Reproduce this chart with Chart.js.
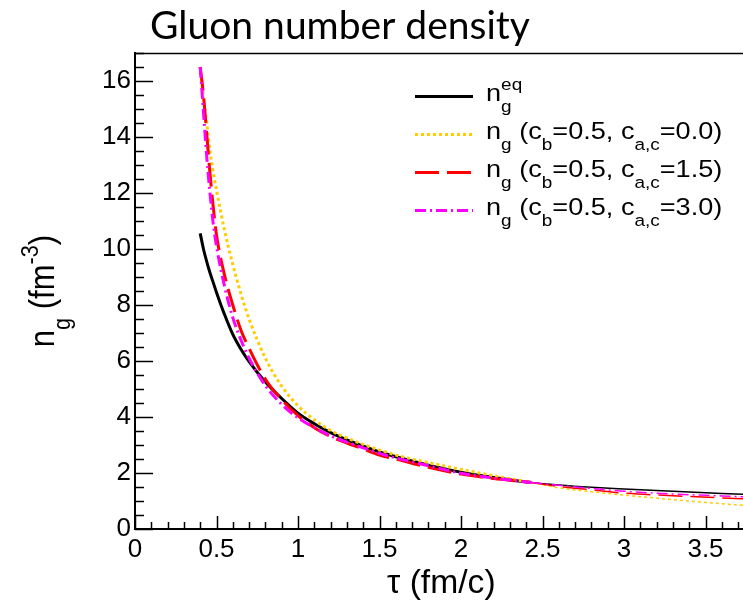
<!DOCTYPE html>
<html>
<head>
<meta charset="utf-8">
<title>Gluon number density</title>
<script src="https://cdn.jsdelivr.net/npm/chart.js@4.4.1/dist/chart.umd.min.js"></script>
<style>
  html, body { margin: 0; padding: 0; background: #fff; }
  #wrap { width: 743px; height: 603px; position: relative; }
</style>
</head>
<body>
<div id="wrap"><canvas id="gluonChart"></canvas></div>
<script>
// proper time grid (fm/c), shared by every curve
const tau = [0.40, 0.42, 0.44, 0.46, 0.48, 0.50, 0.55, 0.60, 0.65, 0.70, 0.80, 0.90, 1.00, 1.10, 1.20,
             1.30, 1.40, 1.50, 1.60, 1.80, 2.00, 2.20, 2.43, 2.60, 2.80, 3.00, 3.30, 3.60, 3.73];

// gluon number density n_g (fm^-3)
const nEq  = [10.56, 10.0, 9.55, 9.15, 8.8, 8.45, 7.65, 6.95, 6.42, 5.98, 5.25, 4.66, 4.14, 3.76, 3.44,
              3.18, 2.96, 2.75, 2.58, 2.28, 2.03, 1.84, 1.66, 1.57, 1.49, 1.43, 1.35, 1.27, 1.24];
const nC00 = [16.5, 15.4, 14.5, 13.5, 12.75, 12.1, 10.65, 9.45, 8.4, 7.5, 6.1, 5.1, 4.4, 3.9, 3.52,
              3.25, 3.02, 2.82, 2.64, 2.37, 2.13, 1.90, 1.66, 1.47, 1.33, 1.21, 1.05, 0.90, 0.85];
const nC15 = [16.5, 15.5, 14.1, 12.7, 11.5, 10.5, 9.05, 8.0, 7.1, 6.45, 5.35, 4.62, 4.05, 3.62, 3.30,
              3.07, 2.86, 2.64, 2.50, 2.20, 1.96, 1.80, 1.66, 1.52, 1.40, 1.28, 1.19, 1.11, 1.08];
const nC30 = [16.5, 14.9, 13.3, 12.0, 10.9, 10.1, 8.65, 7.55, 6.75, 6.1, 5.12, 4.45, 3.97, 3.62, 3.33,
              3.10, 2.90, 2.70, 2.54, 2.26, 1.99, 1.82, 1.66, 1.56, 1.45, 1.35, 1.25, 1.18, 1.15];

// axis ticks
const xTicks = [0, 0.5, 1, 1.5, 2, 2.5, 3, 3.5];
const xTickLabels = ['0', '0.5', '1', '1.5', '2', '2.5', '3', '3.5'];
const yTicks = [0, 2, 4, 6, 8, 10, 12, 14, 16];
const yTickLabels = ['0', '2', '4', '6', '8', '10', '12', '14', '16'];

// legend entries as rich text pieces (sub/superscripts)
const legendLabels = [
    [{t: 'n'}, {t: 'eq', k: 'sup', stay: true}, {t: 'g', k: 'sub'}],
    [{t: 'n'}, {t: 'g', k: 'sub'}, {t: ' (c'}, {t: 'b', k: 'sub'}, {t: '=0.5, c'}, {t: 'a,c', k: 'sub'}, {t: '=0.0)'}],
    [{t: 'n'}, {t: 'g', k: 'sub'}, {t: ' (c'}, {t: 'b', k: 'sub'}, {t: '=0.5, c'}, {t: 'a,c', k: 'sub'}, {t: '=1.5)'}],
    [{t: 'n'}, {t: 'g', k: 'sub'}, {t: ' (c'}, {t: 'b', k: 'sub'}, {t: '=0.5, c'}, {t: 'a,c', k: 'sub'}, {t: '=3.0)'}]
];
const yTitle = [{t: 'n'}, {t: 'g', k: 'sub'}, {t: ' (fm'}, {t: '-3', k: 'sup'}, {t: ')'}];

const FONT = 'Liberation Sans, Arial, Helvetica, sans-serif';
const THIN_FROM = 2.43;   // curves are drawn thinner past this tau

document.addEventListener('DOMContentLoaded', function () {
    const ctx = document.getElementById('gluonChart').getContext('2d');

    function points(values) {
        return tau.map((t, i) => ({x: t, y: values[i]}));
    }

    function curve(label, values, color, dash, order) {
        return {
            label: label,
            data: points(values),
            borderColor: color,
            borderWidth: 3,
            borderDash: dash,
            borderCapStyle: 'butt',
            pointRadius: 0,
            fill: false,
            order: order,
            cubicInterpolationMode: 'monotone',
            segment: {
                borderWidth: c => (c.p0.parsed.x >= THIN_FROM - 1e-6 ? 1.5 : 3)
            }
        };
    }

    // draws "n_g (...)" style text, stretched a bit horizontally like the original
    function drawRich(c, parts, size, stretchX, stretchY) {
        c.save();
        c.scale(stretchX, stretchY);
        let x = 0;
        parts.forEach(p => {
            let fs = size, dy = 0;
            if (p.k === 'sub') { fs = size * 0.7; dy = size * 0.46; }
            if (p.k === 'sup') { fs = size * 0.7; dy = -size * 0.45; }
            c.font = fs + 'px ' + FONT;
            c.fillText(p.t, x, dy);
            if (!p.stay) x += c.measureText(p.t).width;
        });
        c.restore();
    }

    function richWidth(c, parts, size) {
        let w = 0;
        parts.forEach(p => {
            const fs = p.k ? size * 0.7 : size;
            c.font = fs + 'px ' + FONT;
            if (!p.stay) w += c.measureText(p.t).width;
        });
        return w;
    }

    // ROOT-like frame: inward ticks, top line, legend, titles
    const rootFrame = {
        id: 'rootFrame',
        afterDraw(chart) {
            const c = chart.ctx;
            const area = chart.chartArea;
            const xs = chart.scales.x;
            const ys = chart.scales.y;

            c.save();
            c.strokeStyle = '#000';
            c.fillStyle = '#000';

            // top frame line
            c.lineWidth = 1.5;
            c.beginPath();
            c.moveTo(area.left, area.top + 0.5);
            c.lineTo(area.right, area.top + 0.5);
            c.stroke();

            // inward ticks
            c.lineWidth = 1.5;
            c.beginPath();
            for (let k = 0; k * 0.1 <= xs.max + 1e-9; k++) {
                const px = Math.round(xs.getPixelForValue(k * 0.1)) + 0.5;
                const len = k % 5 === 0 ? 13 : 7;
                c.moveTo(px, area.bottom);
                c.lineTo(px, area.bottom - len);
            }
            for (let k = 0; k * 0.5 <= ys.max + 1e-9; k++) {
                const py = Math.round(ys.getPixelForValue(k * 0.5)) + 0.5;
                const len = k % 4 === 0 ? 18 : 9;
                c.moveTo(area.left, py);
                c.lineTo(area.left + len, py);
            }
            c.stroke();

            // legend
            chart.data.datasets.forEach((ds, i) => {
                const ly = 96.5 + i * 38;
                c.save();
                c.strokeStyle = ds.borderColor;
                c.lineWidth = 3;
                c.setLineDash(ds.borderDash || []);
                c.beginPath();
                c.moveTo(415, ly);
                c.lineTo(473, ly);
                c.stroke();
                c.restore();

                c.save();
                c.translate(486, ly + 4);
                c.textBaseline = 'alphabetic';
                drawRich(c, legendLabels[i], 24, 1.13, 1);
                c.restore();
            });

            // y axis title
            c.save();
            c.translate(54, 291);
            c.rotate(-Math.PI / 2);
            const w = richWidth(c, yTitle, 31);
            c.translate(-w / 2, 0);
            drawRich(c, yTitle, 31, 1, 1.13);
            c.restore();

            // x axis title
            c.save();
            c.translate(387, 593);
            drawRich(c, [{t: '\u03c4 (fm/c)'}], 33, 1.02, 1);
            c.restore();

            // plot title
            c.font = '39px Lato, "Open Sans", sans-serif';
            c.textAlign = 'left';
            c.fillText('Gluon number density', 150, 39);

            c.restore();
        }
    };

    const tickFont = {family: FONT, size: 26};

    new Chart(ctx, {
        type: 'line',
        data: {
            datasets: [
                curve('n_g^eq', nEq, '#000000', [], 3),
                curve('n_g (c_b=0.5, c_a,c=0.0)', nC00, '#ffcc00', [3, 3], 2),
                curve('n_g (c_b=0.5, c_a,c=1.5)', nC15, '#ff0000', [24, 8], 1),
                curve('n_g (c_b=0.5, c_a,c=3.0)', nC30, '#ff00ff', [11, 4, 2, 4], 0)
            ]
        },
        options: {
            responsive: true,
            maintainAspectRatio: false,
            animation: false,
            layout: {
                padding: {top: 53, right: 0, bottom: 0, left: 0}
            },
            plugins: {
                legend: {display: false},
                title: {display: false},
                tooltip: {enabled: false}
            },
            scales: {
                x: {
                    type: 'linear',
                    min: 0,
                    max: 3.73,
                    afterBuildTicks: s => { s.ticks = xTicks.map(v => ({value: v})); },
                    afterFit: s => { s.height = 74; s.paddingLeft = 0; s.paddingRight = 0; },
                    grid: {display: false, drawTicks: false},
                    border: {display: true, color: '#000', width: 2},
                    ticks: {
                        color: '#000',
                        font: tickFont,
                        padding: 5,
                        maxRotation: 0,
                        autoSkip: false,
                        callback: (v, i) => xTickLabels[i]
                    }
                },
                y: {
                    type: 'linear',
                    min: 0,
                    max: 17,
                    afterBuildTicks: s => { s.ticks = yTicks.map(v => ({value: v})); },
                    afterFit: s => { s.width = 135; s.paddingTop = 0; s.paddingBottom = 0; },
                    grid: {display: false, drawTicks: false},
                    border: {display: true, color: '#000', width: 2},
                    ticks: {
                        color: '#000',
                        font: tickFont,
                        padding: 4,
                        autoSkip: false,
                        callback: (v, i) => yTickLabels[i]
                    }
                }
            }
        },
        plugins: [rootFrame]
    });
});
</script>
</body>
</html>
